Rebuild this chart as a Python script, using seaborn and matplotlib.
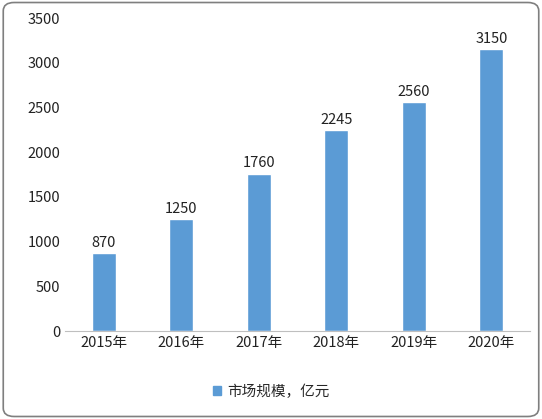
import matplotlib
matplotlib.use("Agg")
import matplotlib.pyplot as plt
import seaborn as sns
import pandas as pd
from matplotlib.patches import FancyBboxPatch

years = ["2015年", "2016年", "2017年", "2018年", "2019年", "2020年"]
values = [870, 1250, 1760, 2245, 2560, 3150]
series_name = "市场规模，亿元"

sns.set_style("white")
plt.rcParams['font.family'] = ['Noto Sans CJK SC', 'DejaVu Sans']

df = pd.DataFrame({"year": years, "value": values})
fig = plt.figure(figsize=(5.42, 4.19), dpi=100)
ax = fig.add_axes([0.12, 0.21, 0.858, 0.747])
sns.barplot(data=df, x="year", y="value", color="#5B9BD5", saturation=1, width=0.31, ax=ax)

for i, v in enumerate(values):
    ax.text(i, v + 40, str(v), ha="center", va="bottom", fontsize=10.5, color="#222222")

ax.set_ylim(0, 3500)
ax.set_yticks(range(0, 3501, 500))
ax.set_xlabel("")
ax.set_ylabel("")
ax.tick_params(labelsize=10.5, colors="#222222", length=0)
for s in ["top", "right", "left"]:
    ax.spines[s].set_visible(False)
ax.spines["bottom"].set_color("#BFBFBF")

h = plt.Rectangle((0, 0), 1, 1, color="#5B9BD5")
fig.legend([h], [series_name], loc="center", bbox_to_anchor=(0.5, 0.065), frameon=False,
           fontsize=10.5, handlelength=0.6, handleheight=0.6, handletextpad=0.4)

fig.patches.append(FancyBboxPatch((0.006, 0.006), 0.988, 0.988, boxstyle="round,pad=0,rounding_size=0.02",
                                  transform=fig.transFigure, fill=False, edgecolor="#7F7F7F", linewidth=1.2))
fig.savefig("out.png", dpi=100)
